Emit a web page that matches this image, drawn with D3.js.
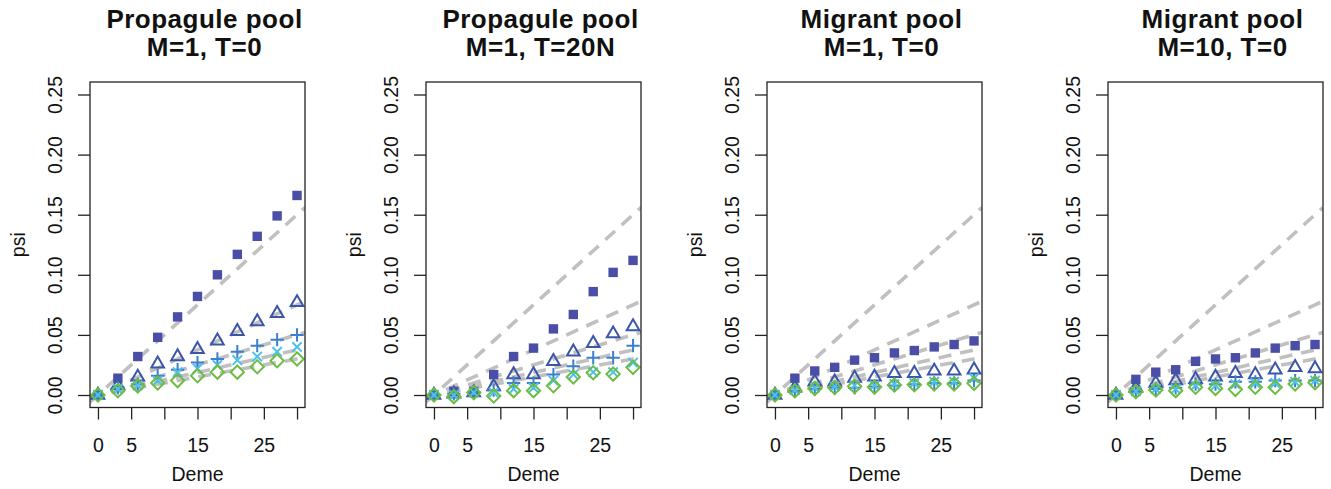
<!DOCTYPE html>
<html>
<head>
<meta charset="utf-8">
<script src="https://cdn.jsdelivr.net/npm/d3@7"></script>
<style>
  body { margin: 0; background: #fff; }
  text { font-family: "Liberation Sans", Arial, Helvetica, sans-serif; fill: #111; }
</style>
</head>
<body>
<div id="chart"></div>
<script>
// deme positions shared by every panel
const demes = [0, 3, 6, 9, 12, 15, 18, 21, 24, 27, 30];

const titles = [
  ["Propagule pool", "M=1, T=0"],
  ["Propagule pool", "M=1, T=20N"],
  ["Migrant pool", "M=1, T=0"],
  ["Migrant pool", "M=10, T=0"]
];

// psi values, one row per panel
const squareVals = [
  [0, 0.014, 0.032, 0.048, 0.065, 0.082, 0.100, 0.117, 0.132, 0.149, 0.166],
  [0, 0.003, 0.003, 0.017, 0.032, 0.039, 0.055, 0.067, 0.086, 0.102, 0.112],
  [0, 0.014, 0.020, 0.023, 0.029, 0.031, 0.035, 0.037, 0.040, 0.042, 0.045],
  [0, 0.013, 0.019, 0.021, 0.028, 0.030, 0.031, 0.035, 0.039, 0.041, 0.042]
];
const triangleVals = [
  [0, 0.008, 0.015, 0.026, 0.032, 0.038, 0.045, 0.053, 0.061, 0.068, 0.077],
  [0, 0.001, 0.002, 0.007, 0.017, 0.017, 0.028, 0.036, 0.043, 0.051, 0.057],
  [0, 0.006, 0.011, 0.011, 0.014, 0.015, 0.018, 0.018, 0.020, 0.020, 0.021],
  [0, 0.006, 0.010, 0.012, 0.013, 0.015, 0.018, 0.017, 0.021, 0.023, 0.022]
];
const plusVals = [
  [0, 0.006, 0.009, 0.016, 0.021, 0.027, 0.030, 0.036, 0.041, 0.046, 0.050],
  [0, 0.001, 0.002, 0.004, 0.010, 0.010, 0.017, 0.024, 0.031, 0.031, 0.041],
  [0, 0.003, 0.005, 0.006, 0.006, 0.007, 0.008, 0.009, 0.010, 0.010, 0.012],
  [0, 0.003, 0.005, 0.006, 0.009, 0.009, 0.011, 0.011, 0.012, 0.012, 0.012]
];
const crossVals = [
  [0, 0.005, 0.008, 0.012, 0.019, 0.022, 0.025, 0.029, 0.032, 0.036, 0.040],
  [0, 0.000, 0.002, 0.002, 0.005, 0.006, 0.012, 0.017, 0.019, 0.019, 0.027],
  [0, 0.004, 0.006, 0.007, 0.008, 0.008, 0.009, 0.010, 0.011, 0.011, 0.014],
  [0, 0.003, 0.005, 0.005, 0.008, 0.008, 0.009, 0.010, 0.010, 0.011, 0.012]
];
const diamondVals = [
  [0, 0.0035, 0.0075, 0.010, 0.012, 0.016, 0.019, 0.019, 0.0235, 0.0285, 0.030],
  [0, -0.0014, 0.002, -0.0008, 0.0036, 0.0036, 0.0077, 0.015, 0.0185, 0.0174, 0.023],
  [0, 0.0035, 0.0055, 0.0062, 0.0072, 0.0066, 0.0083, 0.0085, 0.0091, 0.0092, 0.0097],
  [0, 0.0028, 0.0042, 0.0036, 0.0064, 0.0055, 0.0047, 0.0064, 0.0064, 0.0091, 0.0102]
];

// expected psi slopes (gray dashed reference lines, same in all panels)
const refSlopes = [0.005, 0.0025, 0.00167, 0.00125, 0.001];

const yTicks = [0, 0.05, 0.10, 0.15, 0.20, 0.25];
const xTicks = [0, 5, 10, 15, 20, 25, 30];
const xTickShown = [0, 5, 15, 25];

const colors = {
  square: "#4b4ea6",
  triangle: "#3b55a8",
  plus: "#3d7fcf",
  cross: "#4cc2ea",
  diamond: "#6cbd42"
};

const W = 1331, H = 489;
const panelLeft = [90, 426, 767, 1108];
const boxW = 215, boxTop = 82, boxBottom = 407.5;

const svg = d3.select("#chart").append("svg")
  .attr("width", W).attr("height", H);

// R pch sizes
const R = 4.7;
const shapes = {
  square: `M${-R},${-R}H${R}V${R}H${-R}Z`,
  triangle: (() => {
    const xc = 1.3468 * R, r = 1.555 * R, yc = 0.7776 * R;
    return `M0,${-r}L${xc},${yc}L${-xc},${yc}Z`;
  })(),
  plus: (() => { const a = Math.SQRT2 * R; return `M${-a},0H${a}M0,${-a}V${a}`; })(),
  cross: `M${-R},${-R}L${R},${R}M${-R},${R}L${R},${-R}`,
  diamond: (() => { const a = Math.SQRT2 * R; return `M0,${-a}L${a},0L0,${a}L${-a},0Z`; })()
};

titles.forEach((t, p) => {
  const left = panelLeft[p];
  const x = d3.scaleLinear().domain([-1.2, 31.2]).range([left, left + boxW]);
  const y = d3.scaleLinear().domain([-0.0104, 0.2604]).range([boxBottom, boxTop]);

  const g = svg.append("g");

  svg.append("clipPath").attr("id", "clip" + p)
    .append("rect")
    .attr("x", left).attr("y", boxTop)
    .attr("width", boxW).attr("height", boxBottom - boxTop);

  // reference lines
  g.append("g").attr("clip-path", `url(#clip${p})`)
    .selectAll("line")
    .data(refSlopes)
    .enter()
    .append("line")
    .attr("x1", x(-1.2)).attr("x2", x(31.2))
    .attr("y1", (s) => y(-1.2 * s))
    .attr("y2", (s) => y(31.2 * s))
    .attr("stroke", "#c0c0c0")
    .attr("stroke-width", 3.6)
    .attr("stroke-dasharray", "13,9");

  // points
  const series = [
    ["square", squareVals[p]],
    ["triangle", triangleVals[p]],
    ["plus", plusVals[p]],
    ["cross", crossVals[p]],
    ["diamond", diamondVals[p]]
  ];
  series.forEach(([name, vals]) => {
    g.append("g")
      .selectAll("path")
      .data(vals)
      .enter()
      .append("path")
      .attr("transform", (d, i) => `translate(${x(demes[i])},${y(d)})`)
      .attr("d", shapes[name])
      .attr("fill", name === "square" ? colors[name] : "none")
      .attr("stroke", name === "square" ? "none" : colors[name])
      .attr("stroke-width", 2);
  });

  // box
  g.append("rect")
    .attr("x", left).attr("y", boxTop)
    .attr("width", boxW).attr("height", boxBottom - boxTop)
    .attr("fill", "none").attr("stroke", "#222").attr("stroke-width", 1.3);

  // y axis
  const yAxis = g.append("g")
    .attr("transform", `translate(${left},0)`)
    .call(d3.axisLeft(y).tickValues(yTicks).tickSize(12).tickFormat(d3.format(".2f")));
  yAxis.select(".domain").remove();
  yAxis.selectAll(".tick line").attr("stroke", "#222").attr("stroke-width", 1.3);
  yAxis.selectAll(".tick text")
    .attr("x", 0).attr("dy", null)
    .attr("transform", "translate(-28,0) rotate(-90)")
    .attr("text-anchor", "middle")
    .style("font-size", "19.5px")
    .attr("fill", "#111");

  // x axis
  const xAxis = g.append("g")
    .attr("transform", `translate(0,${boxBottom})`)
    .call(d3.axisBottom(x).tickValues(xTicks).tickSize(12)
      .tickFormat((d) => (xTickShown.includes(d) ? d : "")));
  xAxis.select(".domain").remove();
  xAxis.selectAll(".tick line").attr("stroke", "#222").attr("stroke-width", 1.3);
  xAxis.selectAll(".tick text")
    .attr("y", 44.5).attr("dy", null)
    .style("font-size", "19.5px")
    .attr("fill", "#111");

  // axis titles
  g.append("text")
    .attr("x", left + boxW / 2).attr("y", 481)
    .attr("text-anchor", "middle")
    .style("font-size", "19.5px")
    .text("Deme");
  g.append("text")
    .attr("transform", `translate(${left - 65},${(boxTop + boxBottom) / 2}) rotate(-90)`)
    .attr("text-anchor", "middle")
    .style("font-size", "19.5px")
    .text("psi");

  // title
  const title = g.append("text")
    .attr("text-anchor", "middle")
    .style("font-size", "26px")
    .style("font-weight", "bold")
    .style("letter-spacing", "0.5px");
  title.append("tspan").attr("x", left + boxW / 2 + 7).attr("y", 28).text(t[0]);
  title.append("tspan").attr("x", left + boxW / 2 + 7).attr("y", 56).text(t[1]);
});
</script>
</body>
</html>
